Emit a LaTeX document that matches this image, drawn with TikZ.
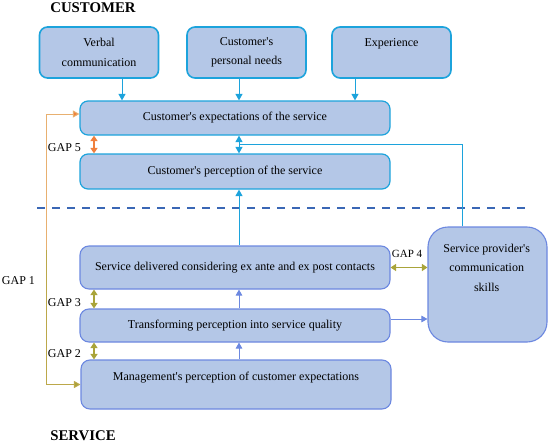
\documentclass[tikz,border=0pt]{standalone}
\usepackage{fontspec}
\setmainfont{Liberation Serif}
\usepackage{tikz}
\usetikzlibrary{positioning, arrows.meta}

\definecolor{boxfill}{HTML}{B4C7E7}
\definecolor{cyanline}{HTML}{1CA3DC}
\definecolor{servline}{HTML}{6C88E0}
\definecolor{gaporange}{HTML}{F07F3C}
\definecolor{gapolive}{HTML}{A9A43A}
\definecolor{gaptan}{HTML}{E8B070}
\definecolor{dashblue}{HTML}{3A67B5}

\begin{document}
\begin{tikzpicture}[
    x=1pt, y=-1pt,
    every node/.style={font=\fontsize{12}{19.5}\selectfont, align=center},
    title/.style={font=\bfseries\fontsize{14.8}{17}\selectfont},
    topbox/.style={draw=cyanline, line width=1.6pt, fill=boxfill, rounded corners=8pt, minimum width=119pt, minimum height=51pt},
    custbox/.style={draw=cyanline, line width=1.2pt, fill=boxfill, rounded corners=8pt, minimum width=310pt},
    servbox/.style={draw=servline, line width=1.1pt, fill=boxfill, rounded corners=9pt, minimum width=310pt},
    cyanarrow/.style={draw=cyanline, line width=1pt, -{Triangle[width=7pt,length=6.5pt]}},
    bluearrow/.style={draw=servline, line width=1pt, -{Triangle[width=6.5pt,length=6pt]}},
    gaparrow/.style={line width=1.4pt, {Triangle[width=7pt,length=5.5pt]}-{Triangle[width=7pt,length=5.5pt]}}
]
\useasboundingbox (0,0) rectangle (550,445);

% columns used by the connectors
\coordinate (c1) at (122,0);
\coordinate (c2) at (239,0);
\coordinate (c3) at (355,0);
\coordinate (g5) at (94,0);
\coordinate (g1) at (46,250);
\coordinate (pv) at (462,144);
\coordinate (ty) at (0,319);

\node[title] (customer) at (93,8) {CUSTOMER};
\node[title] (service) at (83,436) {SERVICE};

% customer side
\node[topbox] (verbal) at (99,52.5) {Verbal\\communication};
\node[topbox] (needs) at (246.5,52.5) {Customer\textquotesingle s\\personal needs};
\node[topbox] (exper) at (391.5,52.5) {};
\node (exper-t) at (391.5,44) {Experience};

\node[custbox, minimum height=34pt] (expect) at (235,118) {Customer\textquotesingle s expectations of the service};
\node[custbox, minimum height=35pt] (percep) at (235,171.5) {Customer\textquotesingle s perception of the service};

\draw[dashblue, line width=2.5pt, dash pattern=on 8pt off 7pt] (37,208) -- (525,208);

% service side
\node[servbox, minimum height=43pt] (deliv) at (235,267.5) {Service delivered considering ex ante and ex post contacts};
\node[servbox, minimum height=33pt] (transf) at (235,325.5) {Transforming perception into service quality};
\node[servbox, minimum height=49pt] (manag) at (236,384.5) {};
\node (manag-t) at (236,377.7) {Management\textquotesingle s perception of customer expectations};

\node[draw=servline, line width=1.1pt, fill=boxfill, rounded corners=20pt, minimum width=119pt, minimum height=115pt] (provider) at (487.5,284.5) {};
\node (provider-t) at (486.7,267.5) {Service provider\textquotesingle s\\communication\\skills};

% connectors
\draw[cyanarrow] (verbal.south -| c1) -- (expect.north -| c1);
\draw[cyanarrow] (needs.south -| c2) -- (expect.north -| c2);
\draw[cyanarrow] (exper.south -| c3) -- (expect.north -| c3);
\draw[cyanarrow] (deliv.north -| c2) -- (percep.south -| c2);
\draw[cyanline, line width=1pt] (provider.north -| pv) -- (pv) -- (pv -| c2) coordinate (jn);
\draw[cyanarrow] (jn) -- (expect.south -| c2);
\draw[cyanarrow] (jn) -- (percep.north -| c2);

\draw[bluearrow] (transf.north -| c2) -- (deliv.south -| c2);
\draw[bluearrow] (manag.north -| c2) -- (transf.south -| c2);
\draw[bluearrow] (transf.east |- ty) -- (provider.west |- ty);

% gaps
\draw[gaparrow, gaporange] (expect.south -| g5) -- (percep.north -| g5);
\draw[gaparrow, gapolive] (deliv.south -| g5) -- (transf.north -| g5);
\draw[gaparrow, gapolive] (transf.south -| g5) -- (manag.north -| g5);
\draw[gaparrow, gapolive] (deliv.east) -- (deliv.east -| provider.west);
\draw[gaptan, line width=1pt, -{Triangle[width=7pt,length=6.5pt, fill=gaporange]}] (g1) |- ([yshift=4pt]expect.west);
\draw[gapolive!70!gaptan, line width=1pt, -{Triangle[width=7pt,length=6.5pt, fill=gapolive]}] (g1) |- (manag.west);

\node (gap1) at (18.5,281) {GAP 1};
\node (gap2) at (64.5,354) {GAP 2};
\node (gap3) at (64.5,303) {GAP 3};
\node[font=\fontsize{11}{12}\selectfont] (gap4) at (407,254) {GAP 4};
\node (gap5) at (64.5,148) {GAP 5};
\end{tikzpicture}
\end{document}
